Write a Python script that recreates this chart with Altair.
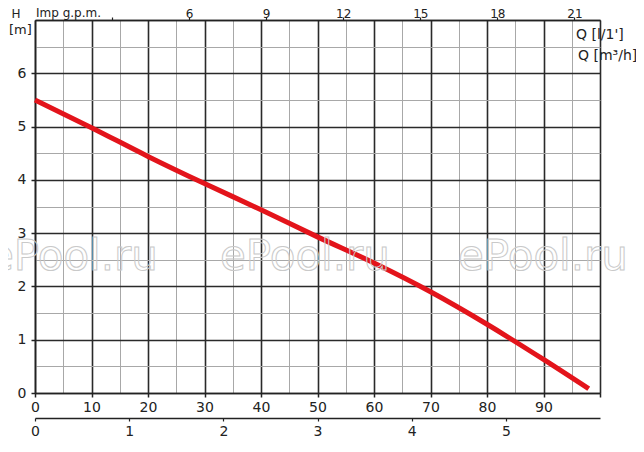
import altair as alt
import pandas as pd

# ---- data ----
q_lpm = [0, 10, 20, 30, 40, 50, 60, 70, 80, 90, 98]
head_m = [5.5, 4.98, 4.44, 3.93, 3.44, 2.93, 2.44, 1.9, 1.29, 0.63, 0.08]

q_grid = list(range(0, 101, 5))
q_major = list(range(0, 101, 10))
h_grid = [i * 0.5 for i in range(15)]
gpm_ticks = [3, 6, 9, 12, 15, 18, 21]
m3h_ticks = [0, 1, 2, 3, 4, 5]

LPM_PER_GPM = 4.54609
LPM_PER_M3H = 1000.0 / 60.0

FONT = "DejaVu Sans"
INK = "#222222"

curve = pd.DataFrame({"q": q_lpm, "h": head_m})
xscale = alt.Scale(domain=[0, 100], nice=False, zero=False)
yscale = alt.Scale(domain=[0, 7], nice=False, zero=False)

major_dark = {"condition": {"test": "datum.value % 10 === 0", "value": "#2a2a2a"}, "value": "#a8a8a8"}
major_w = {"condition": {"test": "datum.value % 10 === 0", "value": 1.6}, "value": 1}
ymajor_dark = {"condition": {"test": "datum.value % 1 === 0", "value": "#2a2a2a"}, "value": "#a8a8a8"}
ymajor_w = {"condition": {"test": "datum.value % 1 === 0", "value": 1.6}, "value": 1}
ytick_col = {"condition": {"test": "datum.value % 1 !== 0 || datum.value >= 7", "value": "transparent"}, "value": INK}

base = alt.Chart(curve)
noy = alt.Y("h:Q", scale=yscale, axis=None)

# grid + y axis, with the curve
line = base.mark_line(color="#e3141b", strokeWidth=5, strokeCap="butt", interpolate="monotone").encode(
    x=alt.X("q:Q", scale=xscale,
            axis=alt.Axis(values=q_grid, grid=True, gridColor=major_dark, gridWidth=major_w,
                          labels=False, ticks=False, domain=False, title=None, orient="bottom")),
    y=alt.Y("h:Q", scale=yscale,
            axis=alt.Axis(values=h_grid, grid=True, gridColor=ymajor_dark, gridWidth=ymajor_w,
                          tickColor=ytick_col, tickSize=4, tickWidth=1.5,
                          labelExpr="datum.value % 1 === 0 && datum.value < 7 ? format(datum.value, 'd') : ''",
                          labelFont=FONT, labelFontSize=14, labelColor=INK, labelPadding=5,
                          domainColor=INK, domainWidth=1.6, title=None)),
)

# main bottom axis: Q [l/1']
bottom = base.mark_point(opacity=0).encode(
    x=alt.X("q:Q", scale=xscale,
            axis=alt.Axis(values=q_major, grid=False, orient="bottom", tickSize=4, tickWidth=1.5,
                          tickColor=INK, domainColor=INK, domainWidth=1.6,
                          labelExpr="datum.value < 100 ? datum.label : ''",
                          labelFont=FONT, labelFontSize=14, labelColor=INK, labelPadding=3,
                          labelFlush=False, title=None)),
    y=noy,
)

# top axis: Imp g.p.m.
top = base.mark_point(opacity=0).encode(
    x=alt.X("q:Q", scale=xscale,
            axis=alt.Axis(values=[g * LPM_PER_GPM for g in gpm_ticks], grid=False, orient="top",
                          tickSize=3, tickWidth=1.2, tickColor=INK, domainColor=INK, domainWidth=1.6,
                          labelExpr=f"datum.value < 20 ? '' : '' + round(datum.value / {LPM_PER_GPM})",
                          labelFont=FONT, labelFontSize=12, labelColor=INK, labelPadding=0,
                          labelBaseline="alphabetic", labelFlush=False, title=None)),
    y=noy,
)

# second bottom axis: Q [m3/h]
bottom2 = base.mark_point(opacity=0).encode(
    x=alt.X("q:Q", scale=xscale,
            axis=alt.Axis(values=[m * LPM_PER_M3H for m in m3h_ticks], grid=False, orient="bottom",
                          offset=25, tickSize=3, tickWidth=1.2, tickColor=INK,
                          domainColor=INK, domainWidth=1.4,
                          labelExpr=f"'' + round(datum.value / {LPM_PER_M3H})",
                          labelFont=FONT, labelFontSize=14, labelColor=INK, labelPadding=3,
                          labelFlush=False, title=None)),
    y=noy,
)

one = pd.DataFrame({"a": [0]})


def label(txt, x, y, align="left", size=14, baseline="middle"):
    return alt.Chart(one).mark_text(text=txt, align=align, baseline=baseline, font=FONT,
                                    fontSize=size, color=INK).encode(
        x=alt.value(x), y=alt.value(y))


def watermark(x):
    return alt.Chart(one).mark_text(text="ePool.ru", align="center", baseline="middle",
                                    font="DejaVu Sans", fontSize=42, fillOpacity=0,
                                    stroke="#c9c9c9", strokeWidth=1).encode(
        x=alt.value(x), y=alt.value(237))


texts = [
    label("H", -19, -6, align="center", size=12),
    label("[m]", -26, 10, align="left", size=13),
    label("Imp g.p.m.", 1, -3, size=12, baseline="alphabetic"),
    label("Q [l/1']", 541, 15),
    label("Q [m³/h]", 543, 36),
    watermark(38), watermark(270), watermark(508),
]

chart = alt.layer(line, bottom, top, bottom2, *texts).resolve_axis(
    x="independent", y="independent"
).properties(
    width=565, height=373,
    autosize=alt.AutoSizeParams(type="none"),
    padding={"left": 27, "top": 12, "right": 36, "bottom": 51},
).configure_view(stroke=None).configure(background="white")

chart.save("out.html", embed_options={"renderer": "svg", "actions": False})
